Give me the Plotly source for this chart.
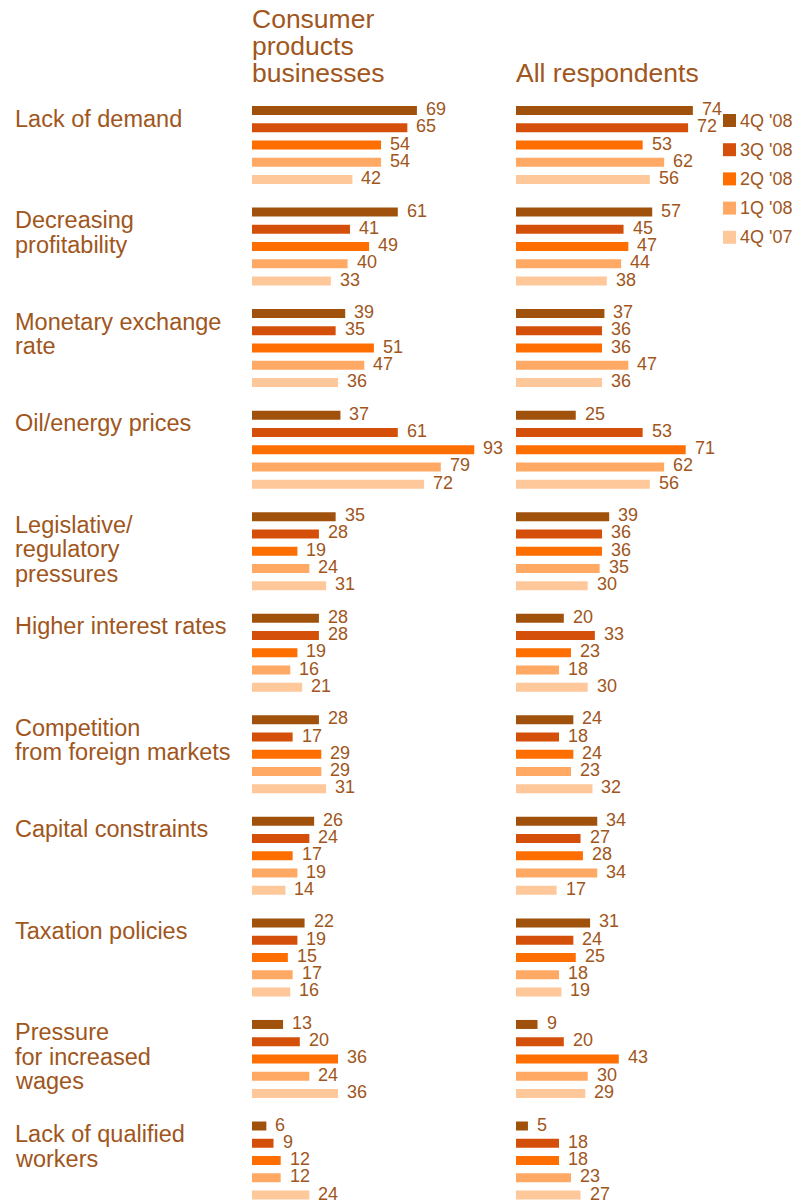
import plotly.graph_objects as go

# Reasons cited, top to bottom (line breaks as set in the labels)
categories = [
    ["Lack of demand"],
    ["Decreasing", "profitability"],
    ["Monetary exchange", "rate"],
    ["Oil/energy prices"],
    ["Legislative/", "regulatory", "pressures"],
    ["Higher interest rates"],
    ["Competition", "from foreign markets"],
    ["Capital constraints"],
    ["Taxation policies"],
    ["Pressure", "for increased", "wages"],
    ["Lack of qualified", "workers"],
]

quarters = ["4Q '08", "3Q '08", "2Q '08", "1Q '08", "4Q '07"]

# Consumer products businesses, % by survey quarter
consumer_4q08 = [69, 61, 39, 37, 35, 28, 28, 26, 22, 13, 6]
consumer_3q08 = [65, 41, 35, 61, 28, 28, 17, 24, 19, 20, 9]
consumer_2q08 = [54, 49, 51, 93, 19, 19, 29, 17, 15, 36, 12]
consumer_1q08 = [54, 40, 47, 79, 24, 16, 29, 19, 17, 24, 12]
consumer_4q07 = [42, 33, 36, 72, 31, 21, 31, 14, 16, 36, 24]

# All respondents, % by survey quarter
all_4q08 = [74, 57, 37, 25, 39, 20, 24, 34, 31, 9, 5]
all_3q08 = [72, 45, 36, 53, 36, 33, 18, 27, 24, 20, 18]
all_2q08 = [53, 47, 36, 71, 36, 23, 24, 28, 25, 43, 18]
all_1q08 = [62, 44, 47, 62, 35, 18, 23, 34, 18, 30, 23]
all_4q07 = [56, 38, 36, 56, 30, 30, 32, 17, 19, 29, 27]

consumer = [consumer_4q08, consumer_3q08, consumer_2q08, consumer_1q08, consumer_4q07]
everyone = [all_4q08, all_3q08, all_2q08, all_1q08, all_4q07]

colors = ["#A0520C", "#D4500A", "#FF6E00", "#FFA964", "#FFC89A"]
text_color = "#A0561C"
font_family = "Arial, Liberation Sans, sans-serif"

W, H = 807, 1203
FIRST = 110.5        # centre of the first bar (px from top)
GROUP_STEP = 101.55  # distance between category blocks
BAR_STEP = 17.25     # distance between bars inside a block
BAR_THICK = 9
PX_PER_UNIT = 2.39

def bar_pos(g, k):
    return FIRST + g * GROUP_STEP + k * BAR_STEP

def px(x):
    return x / W

left0, right0 = 252, 516
span = 100 * PX_PER_UNIT

# Shared text-box settings: no padding, no border
box = dict(showarrow=False, borderpad=0, borderwidth=0)

fig = go.Figure()
annotations = []
shapes = []

for k, q in enumerate(quarters):
    ys = [bar_pos(g, k) for g in range(len(categories))]
    for panel, xa in ((consumer, "x"), (everyone, "x2")):
        vals = panel[k]
        fig.add_trace(go.Bar(
            x=vals, y=ys, orientation="h", width=BAR_THICK,
            marker=dict(color=colors[k], line=dict(width=0)),
            xaxis=xa, yaxis="y", name=q, showlegend=False,
            hoverinfo="x",
        ))
        for v, y in zip(vals, ys):
            annotations.append(dict(
                x=v, y=y - 1.5, xref=xa, yref="y", text=str(v),
                xanchor="left", yanchor="middle", xshift=9,
                height=16, valign="middle",
                font=dict(size=18, color=text_color, family=font_family),
                **box,
            ))

# Category labels
for g, lines in enumerate(categories):
    for i, line in enumerate(lines):
        annotations.append(dict(
            x=px(15), y=bar_pos(g, 0) + 7.5 + i * 24.5, xref="paper", yref="y",
            text=line, xanchor="left", yanchor="middle",
            height=24, valign="bottom", yshift=-1.5,
            font=dict(size=23.5, color=text_color, family=font_family),
            **box,
        ))

# Panel titles (tight line spacing: fixed box height, text sitting on its bottom)
title_style = dict(xref="paper", yref="y", xanchor="left", yanchor="middle",
                   height=26, valign="bottom", yshift=-1.5,
                   font=dict(size=26.5, color=text_color, family=font_family),
                   **box)
for i, line in enumerate(["Consumer", "products", "businesses"]):
    annotations.append(dict(x=px(left0), y=19.5 + i * 27, text=line, **title_style))
annotations.append(dict(x=px(right0), y=73.5, text="All respondents", **title_style))

# Legend
for k, q in enumerate(quarters):
    yc = 120.5 + k * 29.2
    shapes.append(dict(
        type="rect", xref="paper", yref="y",
        x0=px(723), x1=px(736), y0=yc - 6.5, y1=yc + 6.5,
        fillcolor=colors[k], line=dict(width=0),
    ))
    annotations.append(dict(
        x=px(740), y=yc, xref="paper", yref="y", text=q,
        xanchor="left", yanchor="middle",
        font=dict(size=18, color=text_color, family=font_family),
        **box,
    ))

hidden = dict(showgrid=False, zeroline=False, showticklabels=False,
              showline=False, ticks="", fixedrange=True)

fig.update_layout(
    width=W, height=H,
    margin=dict(l=0, r=0, t=0, b=0),
    paper_bgcolor="white", plot_bgcolor="white",
    barmode="overlay",
    xaxis=dict(domain=[px(left0), px(left0 + span)], range=[0, 100], **hidden),
    xaxis2=dict(domain=[px(right0), px(right0 + span)], range=[0, 100],
                anchor="y", **hidden),
    yaxis=dict(domain=[0, 1], range=[H, 0], **hidden),
    annotations=annotations,
    shapes=shapes,
    showlegend=False,
)

fig.write_html("out.html")
